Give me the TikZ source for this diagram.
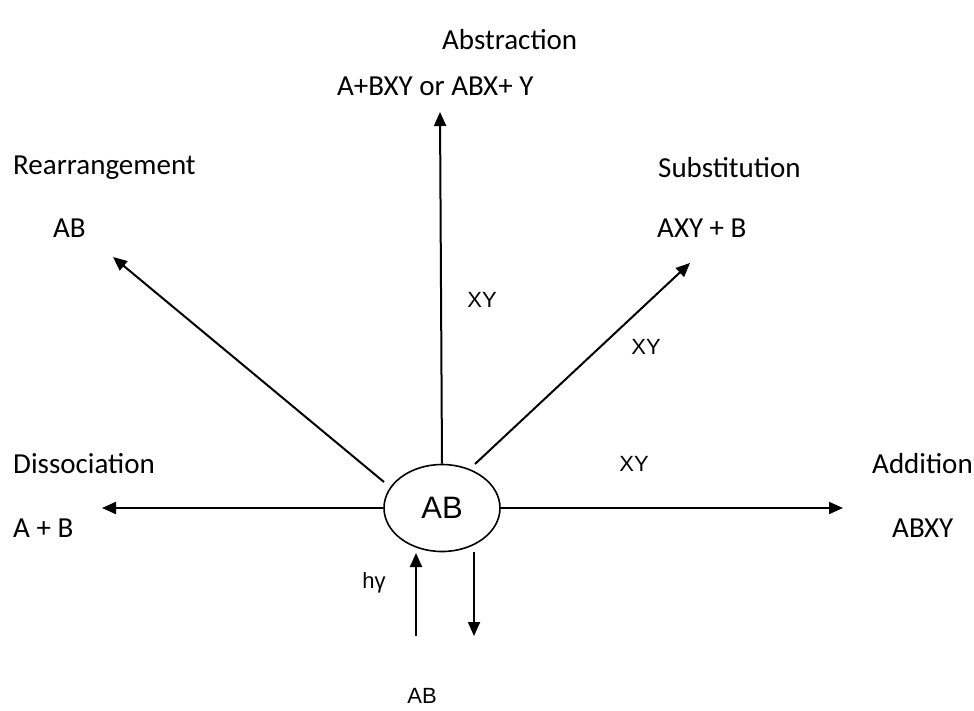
\documentclass[tikz,border=0pt]{standalone}
\usepackage{fontspec}
\setmainfont{Carlito}
\newfontfamily\arialf{Liberation Sans}
\usetikzlibrary{arrows.meta,shapes.geometric}
\tikzset{
  lbl/.style={font=\fontsize{29}{34}\selectfont, inner sep=0pt},
  albl/.style={font=\arialf\fontsize{22}{26}\selectfont, inner sep=0pt},
  arr/.style={line width=2pt, -{Triangle[length=14pt,width=12pt]}},
}
\begin{document}
\begin{tikzpicture}[x=1pt,y=-1pt]
\useasboundingbox (0,0) rectangle (974,710);
% centre
\node[draw, line width=1.6pt, ellipse, minimum width=116pt, minimum height=87pt, inner sep=0pt, font=\arialf\fontsize{31}{36}\selectfont] (ab) at (442,508) {AB};
% labels
\node[lbl, anchor=west] (abs) at (442,40) {Abstraction};
\node[lbl, anchor=west] (absp) at (337,86) {A+BXY or ABX+ Y};
\node[lbl, anchor=west] (rea) at (13,168) {Rearrangement};
\node[lbl, anchor=west] (reap) at (53,228) {AB};
\node[lbl, anchor=west] (sub) at (658,168) {Substitution};
\node[lbl, anchor=west] (subp) at (657,228) {AXY + B};
\node[lbl, anchor=west] (dis) at (13,464) {Dissociation};
\node[lbl, anchor=west] (disp) at (13,528) {A + B};
\node[lbl, anchor=west] (add) at (872,464) {Addition};
\node[lbl, anchor=west] (addp) at (892,528) {ABXY};
\node[albl] (xy1) at (482,300) {XY};
\node[albl] (xy2) at (646,347) {XY};
\node[albl] (xy3) at (634,464) {XY};
\node[albl] (hv) at (374,583) {hγ};
\node[albl] (abb) at (422,696) {AB};
% coordinates for connectors
\coordinate (tup) at (440,112);
\coordinate (tul) at (113,257);
\coordinate (sul) at (384,482);
\coordinate (tur) at (690,263);
\coordinate (sur) at (475,464);
\coordinate (tl) at (102,508);
\coordinate (tr) at (843,508);
\coordinate (bu1) at (416,636);
\coordinate (bu2) at (416,553);
\coordinate (bd1) at (474,552);
\coordinate (bd2) at (474,636);
% connectors
\draw[arr] (ab.north) -- (tup);
\draw[arr] (sul) -- (tul);
\draw[arr] (sur) -- (tur);
\draw[arr] (ab.west) -- (tl);
\draw[arr] (ab.east) -- (tr);
\draw[arr] (bu1) -- (bu2);
\draw[arr] (bd1) -- (bd2);
\end{tikzpicture}
\end{document}
